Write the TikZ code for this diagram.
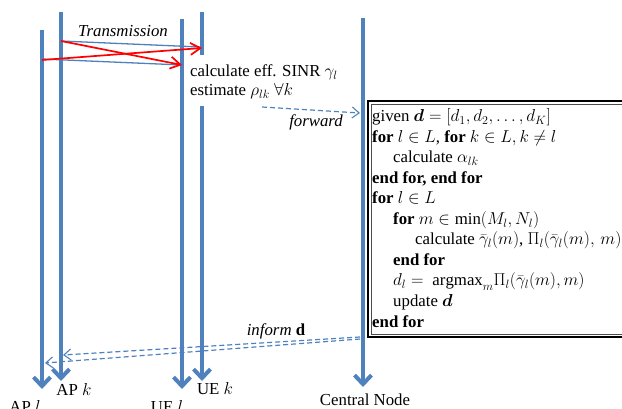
\documentclass[tikz,border=0pt]{standalone}
\usepackage{amsmath,bm}
\usepackage{fontspec}
\setmainfont{Liberation Serif}
\usetikzlibrary{arrows.meta}
\definecolor{lblue}{RGB}{79,129,189}
\tikzset{
  life/.style={draw=lblue, line width=4pt},
  lifearrow/.style={life, -{Straight Barb[length=9pt,width=17pt]}},
  sig/.style={draw=lblue, line width=1.3pt},
  intf/.style={draw=red, line width=1.7pt, -{Straight Barb[length=10pt,width=12pt]}},
  msg/.style={draw=lblue, line width=1.2pt, dash pattern=on 5pt off 3pt, -{Straight Barb[length=7pt,width=11pt,line width=1.1pt]}},
  lbl/.style={font=\fontsize{16.8}{20}\selectfont, inner sep=0pt},
  code/.style={lbl, anchor=base west},
}
\begin{document}
\begin{tikzpicture}[x=1pt,y=-1pt]
\useasboundingbox (0,0) rectangle (622,409);
\clip (0,0) rectangle (622,409);
% lifeline coordinates
\coordinate (aplT) at (42,30);   \coordinate (aplB) at (42,389);
\coordinate (apkT) at (61,12);   \coordinate (apkB) at (61,381);
\coordinate (uelT) at (182,19);  \coordinate (uelB) at (182,389);
\coordinate (uekT) at (202,12);  \coordinate (uekM) at (202,55);
\coordinate (uekN) at (202,106); \coordinate (uekB) at (202,381);
\coordinate (cnT) at (363,18);   \coordinate (cnB) at (363,387);
\draw[lifearrow] (aplT) -- (aplB);
\draw[lifearrow] (apkT) -- (apkB);
\draw[lifearrow] (uelT) -- (uelB);
\draw[life] (uekT) -- (uekM);
\draw[lifearrow] (uekN) -- (uekB);
\draw[lifearrow] (cnT) -- (cnB);
% labels
\node[lbl, anchor=base] (Lapl) at (25,412) {AP $l$};
\node[lbl, anchor=base] (Lapk) at (74,395) {AP $k$};
\node[lbl, anchor=base] (Luel) at (167,412) {UE $l$};
\node[lbl, anchor=base] (Luek) at (215,394) {UE $k$};
\node[lbl, anchor=base] (Lcn) at (365,405) {Central Node};
% transmissions
\coordinate (s1) at (61,41);  \coordinate (e1) at (200,47);
\coordinate (s2) at (42,59);  \coordinate (e2) at (182,65);
\coordinate (r1s) at (61,41); \coordinate (r1e) at (182,65);
\coordinate (r2s) at (42,60); \coordinate (r2e) at (202,48);
\draw[sig] (s1) -- (e1);
\draw[sig] (s2) -- (e2);
\draw[intf] (r1s) -- (r1e);
\draw[intf] (r2s) -- (r2e);
\node[lbl, font=\fontsize{16.8}{20}\selectfont\itshape] (tx) at (123,31) {Transmission};
% UE text
\node[code] (calc) at (190,77) {calculate eff. SINR $\gamma_l$};
\node[code] (est) at (190,96) {estimate $\rho_{lk}\ \forall k$};
% forward
\coordinate (fs) at (262,107); \coordinate (fe) at (360,113);
\draw[msg] (fs) -- (fe);
\node[lbl, anchor=east, font=\fontsize{16.8}{20}\selectfont\itshape] (fwd) at (343,122) {forward};
% box
\draw[line width=2pt, fill=white] (368,101) rectangle (640,337);
\draw[line width=0.7pt, draw=black!70] (371,104) rectangle (640,334);
\node[code] (c1) at (372,122) {given $\boldsymbol{d}=[d_1,d_2,\ldots,d_K]$};
\node[code] (c2) at (372,142.5) {\textbf{for} $l\in L$, \textbf{for} $k\in L, k\neq l$};
\node[code] (c3) at (393,163) {calculate $\alpha_{lk}$};
\node[code] (c4) at (372,183.5) {\textbf{end for, end for}};
\node[code] (c5) at (372,204) {\textbf{for} $l\in L$};
\node[code] (c6) at (393,224.5) {\textbf{for} $m\in\min(M_l,N_l)$};
\node[code] (c7) at (415,245) {calculate $\bar{\gamma}_l(m)$, $\Pi_l(\bar{\gamma}_l(m),\,m)$};
\node[code] (c8) at (393,265.5) {\textbf{end for}};
\node[code] (c9) at (393,286) {$d_l=\ \mathrm{argmax}_m\Pi_l(\bar{\gamma}_l(m),m)$};
\node[code] (c10) at (393,306.5) {update $\boldsymbol{d}$};
\node[code] (c11) at (372,327) {\textbf{end for}};
% inform
\coordinate (i1s) at (360,337); \coordinate (i1e) at (63,355);
\coordinate (i2s) at (360,339); \coordinate (i2e) at (45,363);
\draw[msg] (i1s) -- (i1e);
\draw[msg] (i2s) -- (i2e);
\node[lbl, font=\fontsize{16.8}{20}\selectfont\itshape] (inf) at (276,331) {inform \textbf{\upshape d}};
\end{tikzpicture}
\end{document}
